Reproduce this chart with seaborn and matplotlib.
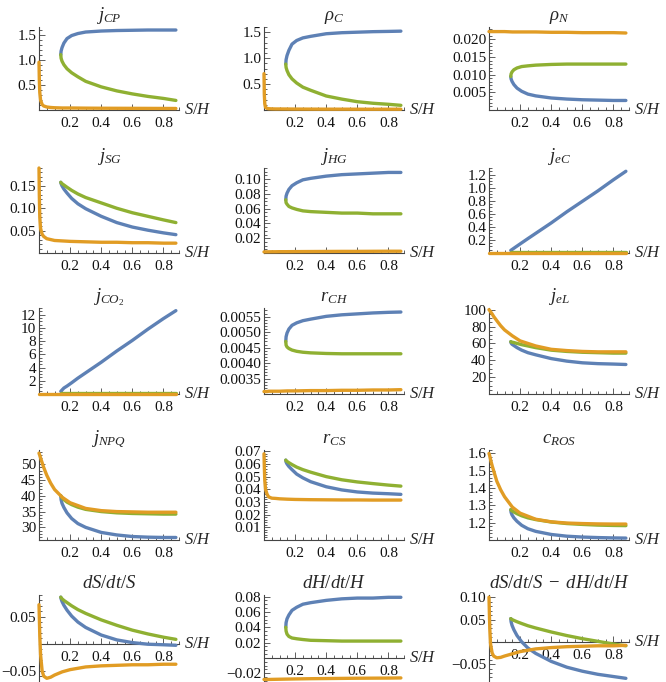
import pandas as pd
import seaborn as sns
import matplotlib.pyplot as plt
from matplotlib.ticker import FixedLocator, MultipleLocator
import matplotlib.transforms as mtransforms

# Style: Mathematica-like, serif text
sns.set_theme(style="white")
plt.rcParams['font.family'] = ['Liberation Serif', 'DejaVu Serif']
plt.rcParams['mathtext.fontset'] = 'custom'
plt.rcParams['mathtext.rm'] = 'Liberation Serif'
plt.rcParams['mathtext.it'] = 'Liberation Serif:italic'
plt.rcParams['axes.unicode_minus'] = True

BLUE = '#5E81B5'
GREEN = '#8FB032'
ORANGE = '#E19C24'
AXIS_COL = '#444444'

# ----------- Data -----------

# S/H grids: orange branch over whole range, blue/green start at the fold
x_orange = [0, 0.002, 0.005, 0.01, 0.02, 0.03, 0.05, 0.075, 0.1, 0.15,
            0.2, 0.3, 0.4, 0.5, 0.6, 0.7, 0.8, 0.88]
x_branch = [0.14, 0.142, 0.148, 0.16, 0.18, 0.21, 0.25, 0.3, 0.4, 0.5,
            0.6, 0.7, 0.8, 0.88]

jcp_blue = [1.10, 1.17, 1.24, 1.33, 1.42, 1.48, 1.52, 1.55, 1.57, 1.58, 1.585, 1.59, 1.59, 1.59]
jcp_green = [1.10, 1.03, 0.97, 0.90, 0.82, 0.74, 0.66, 0.57, 0.46, 0.38, 0.32, 0.27, 0.23, 0.19]
jcp_orange = [0.95, 0.60, 0.35, 0.20, 0.11, 0.08, 0.06, 0.05, 0.045, 0.04,
              0.04, 0.037, 0.035, 0.034, 0.033, 0.032, 0.031, 0.03]

rhoc_blue = [0.885, 0.97, 1.05, 1.15, 1.27, 1.34, 1.39, 1.42, 1.47, 1.49, 1.50, 1.51, 1.515, 1.52]
rhoc_green = [0.885, 0.82, 0.76, 0.68, 0.60, 0.52, 0.44, 0.38, 0.27, 0.21, 0.16, 0.13, 0.11, 0.09]
rhoc_orange = [0.70, 0.30, 0.12, 0.05, 0.03, 0.025, 0.022, 0.02, 0.02, 0.019,
               0.018, 0.017, 0.016, 0.016, 0.015, 0.015, 0.015, 0.015]

rhon_blue = [0.0095, 0.0088, 0.0081, 0.0072, 0.0062, 0.0053, 0.0045, 0.0040, 0.0034,
             0.0031, 0.0029, 0.0028, 0.0027, 0.0027]
rhon_green = [0.0095, 0.0102, 0.0108, 0.0114, 0.0119, 0.0123, 0.0125, 0.0127, 0.0129,
              0.0130, 0.0130, 0.0130, 0.0130, 0.0130]
rhon_orange = [0.0222, 0.0222, 0.0222, 0.0222, 0.0222, 0.0222, 0.0222, 0.0222, 0.0222,
               0.0221, 0.0221, 0.0221, 0.0220, 0.0220, 0.0219, 0.0219, 0.0219, 0.0218]

jsg_blue = [0.158, 0.155, 0.150, 0.143, 0.134, 0.122, 0.110, 0.099, 0.082, 0.068,
            0.058, 0.051, 0.045, 0.041]
jsg_green = [0.158, 0.157, 0.155, 0.152, 0.147, 0.140, 0.132, 0.124, 0.112, 0.100,
             0.090, 0.082, 0.074, 0.068]
jsg_orange = [0.19, 0.13, 0.08, 0.055, 0.042, 0.037, 0.032, 0.030, 0.028, 0.027,
              0.026, 0.025, 0.024, 0.024, 0.023, 0.023, 0.022, 0.022]

jhg_blue = [0.072, 0.077, 0.081, 0.086, 0.091, 0.095, 0.099, 0.101, 0.104, 0.106,
            0.107, 0.108, 0.109, 0.109]
jhg_green = [0.072, 0.068, 0.066, 0.063, 0.061, 0.059, 0.057, 0.056, 0.055, 0.054,
             0.054, 0.053, 0.053, 0.053]
jhg_orange = [0.0015, 0.0015, 0.0015, 0.0016, 0.0016, 0.0016, 0.0017, 0.0017, 0.0018,
              0.0018, 0.0019, 0.0020, 0.0021, 0.0022, 0.0022, 0.0023, 0.0024, 0.0024]

jec_blue = [0.04, 0.043, 0.053, 0.073, 0.106, 0.155, 0.22, 0.30, 0.46, 0.63, 0.79, 0.95, 1.12, 1.25]
jec_green = [0.009, 0.009, 0.009, 0.009, 0.009, 0.009, 0.009, 0.009, 0.009, 0.009,
             0.009, 0.009, 0.009, 0.009]
jec_orange = [0.004, 0.004, 0.004, 0.004, 0.004, 0.004, 0.004, 0.004, 0.004, 0.004,
              0.004, 0.004, 0.004, 0.004, 0.004, 0.004, 0.004, 0.004]

jco2_blue = [0.4, 0.45, 0.6, 0.9, 1.2, 1.7, 2.4, 3.2, 4.8, 6.5, 8.1, 9.8, 11.4, 12.6]
jco2_green = [0.1, 0.1, 0.1, 0.1, 0.1, 0.1, 0.1, 0.1, 0.1, 0.1, 0.1, 0.1, 0.1, 0.1]
jco2_orange = [0.05, 0.05, 0.05, 0.05, 0.05, 0.05, 0.05, 0.05, 0.05, 0.05,
               0.05, 0.05, 0.05, 0.05, 0.05, 0.05, 0.05, 0.05]

rch_blue = [0.0047, 0.00485, 0.00497, 0.0051, 0.00522, 0.0053, 0.00537, 0.00542,
            0.00551, 0.00556, 0.00559, 0.00562, 0.00564, 0.00565]
rch_green = [0.0047, 0.00458, 0.00452, 0.00447, 0.00442, 0.00438, 0.00435, 0.00433,
             0.00431, 0.0043, 0.0043, 0.0043, 0.0043, 0.0043]
rch_orange = [0.00308, 0.00308, 0.00308, 0.00308, 0.00308, 0.00309, 0.00309, 0.00309,
              0.00309, 0.0031, 0.0031, 0.00311, 0.00311, 0.00312, 0.00312, 0.00313,
              0.00313, 0.00314]

jel_blue = [62, 60.5, 59, 57.5, 55, 52, 49, 46.5, 42, 39, 37, 36, 35.5, 35]
jel_green = [62, 61.8, 61.5, 61, 60, 58.5, 57, 55, 52, 50.5, 49.5, 49, 48.5, 48.5]
jel_orange = [100, 99.5, 99, 97.5, 95, 92, 87, 81, 76, 69, 63, 57, 53, 51.5, 50.5, 50, 50, 50]

jnpq_blue = [40, 38.8, 37.6, 36.3, 34.6, 32.8, 31.2, 30, 28.4, 27.6, 27.1, 26.9, 26.8, 26.8]
jnpq_green = [40, 39.8, 39.4, 38.8, 38, 37.2, 36.4, 35.7, 35, 34.6, 34.4, 34.3, 34.2, 34.2]
jnpq_orange = [53.5, 53.2, 52.8, 52, 50.5, 49, 46.5, 44, 42, 39.5,
               37.8, 36, 35.3, 35, 34.9, 34.8, 34.8, 34.8]

rcs_blue = [0.063, 0.0615, 0.060, 0.058, 0.0555, 0.052, 0.049, 0.046, 0.042, 0.0395,
            0.0379, 0.037, 0.0365, 0.036]
rcs_green = [0.063, 0.0625, 0.062, 0.061, 0.0595, 0.0575, 0.0555, 0.0535, 0.050, 0.0475,
             0.0458, 0.0445, 0.0433, 0.0425]
rcs_orange = [0.068, 0.058, 0.047, 0.040, 0.036, 0.034, 0.033, 0.0328, 0.0325, 0.0322,
              0.032, 0.0318, 0.0317, 0.0316, 0.0316, 0.0315, 0.0315, 0.0315]

cros_blue = [1.275, 1.26, 1.245, 1.228, 1.208, 1.185, 1.165, 1.15, 1.132, 1.122,
             1.117, 1.114, 1.112, 1.111]
cros_green = [1.275, 1.272, 1.268, 1.262, 1.252, 1.24, 1.228, 1.218, 1.204, 1.195,
              1.19, 1.186, 1.184, 1.183]
cros_orange = [1.60, 1.595, 1.585, 1.565, 1.53, 1.50, 1.44, 1.39, 1.35, 1.29,
               1.255, 1.22, 1.205, 1.198, 1.195, 1.193, 1.192, 1.192]

dss_blue = [0.086, 0.083, 0.078, 0.071, 0.062, 0.051, 0.040, 0.030, 0.016, 0.007,
            0.002, -0.001, -0.002, -0.003]
dss_green = [0.086, 0.085, 0.083, 0.080, 0.076, 0.070, 0.063, 0.056, 0.044, 0.034,
             0.025, 0.018, 0.012, 0.008]
dss_orange = [0.072, 0.05, 0.015, -0.02, -0.05, -0.06, -0.064, -0.062, -0.058, -0.052,
              -0.048, -0.043, -0.041, -0.040, -0.039, -0.039, -0.038, -0.038]

dhh_blue = [0.040, 0.046, 0.051, 0.056, 0.062, 0.066, 0.070, 0.072, 0.075, 0.077,
            0.078, 0.078, 0.079, 0.079]
dhh_green = [0.040, 0.035, 0.031, 0.028, 0.026, 0.025, 0.024, 0.023, 0.0225, 0.022,
             0.022, 0.022, 0.022, 0.022]
dhh_orange = [-0.028, -0.028, -0.028, -0.028, -0.028, -0.028, -0.0279, -0.0278, -0.0277,
              -0.0275, -0.0273, -0.027, -0.0268, -0.0266, -0.0264, -0.0263, -0.0262, -0.026]

diff_blue = [0.052, 0.045, 0.037, 0.027, 0.014, 0.0, -0.014, -0.026, -0.044, -0.057,
             -0.066, -0.073, -0.078, -0.082]
diff_green = [0.052, 0.051, 0.050, 0.048, 0.045, 0.041, 0.036, 0.031, 0.022, 0.014,
              0.007, 0.001, -0.005, -0.009]
diff_orange = [0.10, 0.07, 0.03, -0.005, -0.025, -0.032, -0.036, -0.035, -0.032, -0.027,
               -0.022, -0.016, -0.013, -0.011, -0.010, -0.009, -0.009, -0.008]

titles = [r'$j_{CP}$', r'$\rho_C$', r'$\rho_N$',
          r'$j_{SG}$', r'$j_{HG}$', r'$j_{eC}$',
          r'$j_{CO_2}$', r'$r_{CH}$', r'$j_{eL}$',
          r'$j_{NPQ}$', r'$r_{CS}$', r'$c_{ROS}$',
          r'$dS/dt/S$', r'$dH/dt/H$', r'$dS/dt/S\;-\;dH/dt/H$']

blues = [jcp_blue, rhoc_blue, rhon_blue, jsg_blue, jhg_blue, jec_blue, jco2_blue, rch_blue,
         jel_blue, jnpq_blue, rcs_blue, cros_blue, dss_blue, dhh_blue, diff_blue]
greens = [jcp_green, rhoc_green, rhon_green, jsg_green, jhg_green, jec_green, jco2_green,
          rch_green, jel_green, jnpq_green, rcs_green, cros_green, dss_green, dhh_green,
          diff_green]
oranges = [jcp_orange, rhoc_orange, rhon_orange, jsg_orange, jhg_orange, jec_orange,
           jco2_orange, rch_orange, jel_orange, jnpq_orange, rcs_orange, cros_orange,
           dss_orange, dhh_orange, diff_orange]

# y ranges, axis crossing, ticks
ylims = [(0, 1.65), (0, 1.6), (0, 0.0235), (0, 0.19), (0, 0.115), (0, 1.3),
         (0, 13), (0.0030, 0.00578), (0, 102), (26, 54.5), (0, 0.071), (1.1, 1.62),
         (-0.069, 0.09), (-0.03, 0.082), (-0.088, 0.105)]
origins = [0, 0, 0, 0, 0, 0, 0, 0.0030, 0, 26, 0, 1.1, 0, 0, 0]
yticks = [[0.5, 1.0, 1.5], [0.5, 1.0, 1.5], [0.005, 0.010, 0.015, 0.020],
          [0.05, 0.10, 0.15], [0.02, 0.04, 0.06, 0.08, 0.10],
          [0.2, 0.4, 0.6, 0.8, 1.0, 1.2], [2, 4, 6, 8, 10, 12],
          [0.0035, 0.0040, 0.0045, 0.0050, 0.0055], [20, 40, 60, 80, 100],
          [30, 35, 40, 45, 50], [0.01, 0.02, 0.03, 0.04, 0.05, 0.06, 0.07],
          [1.2, 1.3, 1.4, 1.5, 1.6], [-0.05, 0.05], [-0.02, 0.02, 0.04, 0.06, 0.08],
          [-0.05, 0.05, 0.10]]
ydecimals = [1, 1, 3, 2, 2, 1, 0, 4, 0, 0, 2, 1, 2, 2, 2]
yminor = [0.1, 0.1, 0.001, 0.01, 0.005, 0.05, 0.5, 0.0001, 5, 1, 0.002, 0.02,
          0.01, 0.005, 0.01]
xticks = [0.2, 0.4, 0.6, 0.8]
xtick_labels = ['0.2', '0.4', '0.6', '0.8']

# ----------- Layout (pixel positions of each panel's axis box) -----------
W, H = 666, 682
col_x0 = [39, 264, 489]
row_top = [27, 168, 308, 450, 595]
row_bot = [110, 253, 394, 540, 681]
panel_w = 140

fig = plt.figure(figsize=(W / 100, H / 100), dpi=100)

for i in range(15):
    r, c = divmod(i, 3)
    ax = fig.add_axes([col_x0[c] / W, 1 - row_bot[r] / H,
                       panel_w / W, (row_bot[r] - row_top[r]) / H])

    for xs, ys, col in [(x_branch, blues[i], BLUE),
                        (x_branch, greens[i], GREEN),
                        (x_orange, oranges[i], ORANGE)]:
        sns.lineplot(x=xs, y=ys, ax=ax, color=col, linewidth=2.4, sort=False,
                     estimator=None, legend=False, clip_on=False, zorder=3,
                     solid_joinstyle='round', solid_capstyle='round')

    ax.set_xlim(0, 0.9)
    ax.set_ylim(*ylims[i])
    ax.set_xlabel('')
    ax.set_ylabel('')

    # axes cross like Mathematica
    ax.spines['left'].set_position(('data', 0))
    ax.spines['bottom'].set_position(('data', origins[i]))
    ax.spines['top'].set_visible(False)
    ax.spines['right'].set_visible(False)
    for s in ['left', 'bottom']:
        ax.spines[s].set_color(AXIS_COL)
        ax.spines[s].set_linewidth(0.8)

    ax.xaxis.set_major_locator(FixedLocator(xticks))
    ax.set_xticklabels(xtick_labels)
    ax.xaxis.set_minor_locator(MultipleLocator(0.05))
    ax.yaxis.set_major_locator(FixedLocator(yticks[i]))
    ax.set_yticklabels([f"{v:.{ydecimals[i]}f}".replace('-', '\u2212') for v in yticks[i]])
    ax.yaxis.set_minor_locator(MultipleLocator(yminor[i]))

    ax.tick_params(which='both', direction='in', color=AXIS_COL, width=0.6,
                   bottom=True, left=True, top=False, right=False,
                   labelsize=11, pad=2, labelcolor='#111111')
    ax.tick_params(which='major', length=4)
    ax.tick_params(which='minor', length=2)
    ax.tick_params(axis='x', pad=5)

    ax.set_title(titles[i], fontsize=13.5, pad=5)

    trans = mtransforms.blended_transform_factory(ax.transAxes, ax.transData)
    ax.text(1.035, origins[i], r'$S/H$', transform=trans, ha='left', va='center',
            fontsize=12)

fig.savefig('out.png', dpi=100)
